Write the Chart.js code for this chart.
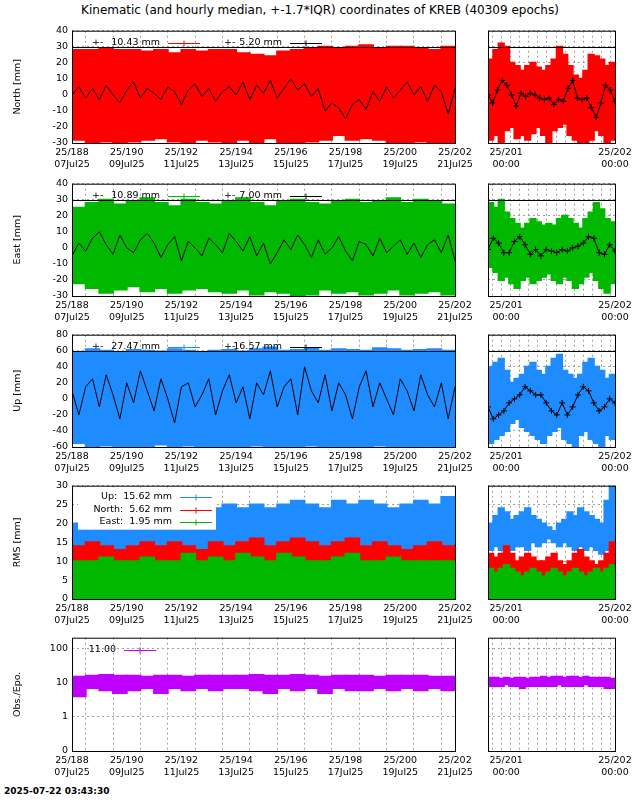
<!DOCTYPE html>
<html><head><meta charset="utf-8">
<script src="https://cdn.jsdelivr.net/npm/chart.js@4.4.1/dist/chart.umd.min.js"></script>
<style>
body{margin:0;background:#fff;width:640px;height:800px;position:relative;overflow:hidden;font-family:"DejaVu Sans",sans-serif}
canvas{position:absolute}
#title{position:absolute;top:3px;left:0;width:640px;text-align:center;font-size:12px}
#stamp{position:absolute;left:4px;top:786px;font-size:9px;font-weight:bold}
</style></head><body>
<div id="title">Kinematic (and hourly median, +-1.7*IQR) coordinates of KREB (40309 epochs)</div>
<div id="stamp">2025-07-22 03:43:30</div>
<script>
// ---- tick labels ----
const leftTickDoy = [188,190,192,194,196,198,200,202];
const leftTickDate = ["07Jul25","09Jul25","11Jul25","13Jul25","15Jul25","17Jul25","19Jul25","21Jul25"];
const rightTickDoy = [201,202];
const rightTickTime = ["00:00","00:00"];
const obsTickLabels = ["0","1","10","100"];
// ---- legends ----
const northLegend = ["10.43 mm","5.20 mm"];
const eastLegend = ["10.89 mm","7.00 mm"];
const upLegend = ["27.47 mm","16.57 mm"];
const rmsLegend = [["Up:","15.62 mm"],["North:","5.62 mm"],["East:","1.95 mm"]];
const obsLegend = "11.00";
// ---- North (half-day bins left, ~hourly bins right) ----
const northHiL=[28,28,29,28,28,27,28,26,28,27,28,28,26,25,24,27,28,29,30,29,30,31,29,30,30,29,28,30];
const northLoL=[-28,-30,-29,-30,-29,-28,-27,-29,-30,-28,-29,-30,-28,-30,-27,-30,-30,-29,-28,-25,-28,-27,-28,-30,-30,-29,-30,-30];
const northMedL=[0,5,-2,4,-3,6,0,-5,3,8,-2,4,1,-3,5,2,-6,3,7,-1,4,-4,2,5,0,8,-3,6,1,9,-2,4,10,3,7,-1,4,-10,-5,-8,-15,-6,-3,-9,2,-4,5,-2,3,8,0,5,-4,6,2,-12,4];
const northHiR=[22,28,32,30,20,18,15,18,20,17,15,18,22,30,25,18,12,10,15,25,24,22,18,20];
const northLoR=[-28,-25,-30,-22,-20,-27,-25,-28,-24,-20,-25,-30,-22,-20,-18,-25,-28,-30,-30,-28,-22,-25,-30,-28];
const northMedR=[0,-5,3,9,6,0,-7,1,-1,1,0,-2,-3,-2,-6,-3,-4,4,9,-2,-3,-2,-8,-14,-5,6,3,-4];
// ---- East ----
const eastHiL=[25,28,30,27,29,31,28,26,30,28,27,29,31,28,26,29,30,28,27,29,30,28,29,31,28,30,29,27];
const eastLoL=[-22,-25,-28,-26,-24,-27,-25,-28,-26,-25,-27,-28,-26,-29,-27,-28,-30,-29,-26,-28,-27,-29,-28,-26,-29,-28,-27,-29];
const eastMedL=[-5,3,-2,6,10,2,-4,8,0,-3,5,9,3,-6,2,7,-8,4,0,-5,6,2,-3,9,4,-2,7,-5,3,-10,-3,5,-1,8,2,-6,5,-4,0,7,-2,-8,4,2,-5,6,-3,1,5,-4,3,-6,2,5,-3,8,-8];
const eastHiR=[28,25,30,22,18,15,12,15,18,16,14,15,14,18,20,18,15,12,18,22,28,24,18,16];
const eastLoR=[-12,-15,-20,-18,-22,-25,-20,-18,-22,-20,-18,-16,-20,-22,-18,-20,-25,-22,-18,-15,-20,-25,-28,-22];
const eastMedR=[-1,6,3,-3,-3,4,7,2,-4,-1,-5,-1,-2,-3,-1,-2,0,1,3,7,6,-3,-4,2,-2];
// ---- Up ----
const upHiL=[58,62,60,58,61,60,59,62,60,58,60,61,59,62,64,60,61,63,60,62,61,60,63,62,60,61,62,60];
const upLoL=[-55,-60,-58,-60,-59,-60,-57,-60,-58,-60,-59,-60,-60,-58,-60,-59,-60,-58,-60,-60,-59,-60,-58,-60,-60,-59,-60,-60];
const upMedL=[10,-20,15,25,-10,30,5,-25,20,-5,35,10,-15,25,0,-30,15,20,-10,5,25,-20,10,30,-5,15,-25,20,5,35,-10,15,25,-20,40,10,-5,30,-15,20,5,-25,15,35,-10,20,0,-20,25,10,-15,30,5,-10,20,-25,15];
const upHiR=[40,45,50,35,20,25,30,40,45,35,30,40,50,55,35,30,25,30,45,50,40,35,25,30];
const upLoR=[-55,-50,-45,-40,-30,-25,-35,-40,-45,-50,-55,-45,-40,-35,-50,-55,-60,-45,-40,-50,-55,-60,-45,-50];
const upMedR=[-10,-25,-20,-15,-5,0,5,15,10,5,5,-5,-15,-20,-5,-20,-10,5,15,10,-5,-15,-10,0,-5];
// ---- RMS ----
const rmsUpHiL=[20,21,22,21,22,23,22,24,23,22,24,25,24,25,24,25,26,25,24,26,25,26,25,24,25,26,25,27];
const rmsUpLoL=[12,13,12,13,12,13,12,13,12,12,13,12,12,13,12,12,13,12,12,13,12,12,13,12,12,13,12,12];
const rmsNoHiL=[14,15,14,13,14,15,14,15,14,13,15,14,15,16,14,15,16,15,14,15,16,14,15,14,13,14,15,14];
const rmsNoLoL=[5,5,6,5,5,6,5,5,6,5,5,6,5,5,6,5,5,6,5,5,6,5,5,6,5,5,6,5];
const rmsEaHiL=[10,10,11,10,10,11,10,10,12,10,11,10,12,11,10,12,11,10,10,11,12,10,10,11,10,10,10,10];
const rmsEaLoL=[0,0,0,0,0,0,0,0,0,0,0,0,0,0,0,0,0,0,0,0,0,0,0,0,0,0,0,0];
const rmsUpHiR=[20,22,24,23,21,22,23,24,22,21,20,19,18,20,21,23,22,24,23,22,21,20,26,30];
const rmsUpLoR=[13,14,13,12,13,14,14,13,15,14,15,16,15,14,15,14,13,14,13,14,13,12,13,12];
const rmsNoHiR=[12,11,12,14,12,10,11,12,11,10,10,11,12,10,9,10,12,13,11,10,9,10,12,15];
const rmsNoLoR=[3,4,3,5,4,3,4,3,2,3,3,2,3,3,2,3,2,3,4,3,3,2,3,4];
const rmsEaHiR=[8,7,8,9,8,7,6,7,8,7,6,7,8,7,6,7,8,7,6,7,8,7,8,9];
const rmsEaLoR=[0,0,0,0,0,0,0,0,0,0,0,0,0,0,0,0,0,0,0,0,0,0,0,0];
// ---- Obs per epoch ----
const obsLoL=[4,7,6,5,6,7,5,7,6,7,6,7,7,6,5,7,6,7,5,7,6,6,7,6,7,6,7,6];
const obsHiL=[15,16,17,16,16,15,16,16,15,16,16,16,16,17,16,16,17,16,15,16,16,16,15,16,16,16,15,15];
const obsLoR=[8,8,8,9,8,8,7,8,8,8,8,8,8,9,8,8,8,8,9,8,8,8,7,7];
const obsHiR=[14,14,13,14,13,14,14,13,14,14,15,14,15,15,14,15,15,14,15,14,14,14,14,13];

const RED='#ff0000', GREEN='#00b800', BLUE='#1e8cff', PURPLE='#c000ff';
Chart.defaults.font={family:'DejaVu Sans',size:9}; Chart.defaults.color='#000';
Chart.defaults.animation=false;
const L0=188,L1=202,R0=200+20/24,R1=202;

const binsL=(a,b,t)=>a.map((v,i)=>({x:L0+(i+0.5)*(L1-L0)/a.length,y:t?[t(a[i]),t(b[i])]:[a[i],b[i]]}));
const binsR=(a,b,t)=>a.map((v,i)=>({x:R0+(i+0.5)*(R1-R0)/a.length,y:t?[t(a[i]),t(b[i])]:[a[i],b[i]]}));
const medL=a=>a.map((v,i)=>({x:L0+i*(L1-L0)/(a.length-1),y:v}));
const medR=a=>a.map((v,i)=>({x:R0+i*(R1-R0)/(a.length-1),y:v}));

const extra={id:'extra',
  afterDatasetsDraw(c,args,o){
    const ctx=c.ctx, a=c.chartArea;
    ctx.save();
    if(o.hline!==undefined){const y=Math.round(c.scales.y.getPixelForValue(o.hline));
      ctx.strokeStyle='#000';ctx.lineWidth=1;ctx.beginPath();ctx.moveTo(a.left,y+.5);ctx.lineTo(a.right,y+.5);ctx.stroke();}
    if(o.whiteBox){const b=o.whiteBox;ctx.fillStyle='#fff';ctx.fillRect(a.left+b[0],a.top+b[1],b[2],b[3]);}
    ctx.font='9.5px "DejaVu Sans"';ctx.textBaseline='middle';
    (o.items||[]).forEach(it=>{
      ctx.fillStyle='#000';ctx.textAlign='right';
      ctx.fillText(it.t,a.left+it.x,a.top+it.y);
      if(it.p){ctx.textAlign='left';ctx.fillText('+-',a.left+it.p,a.top+it.y);}
      ctx.strokeStyle=it.c;ctx.lineWidth=1;ctx.beginPath();
      const y=Math.round(a.top+it.y)+.5, x0=a.left+it.x+8, x1=x0+32;
      ctx.moveTo(x0,y);ctx.lineTo(x1,y);
      ctx.moveTo((x0+x1)/2,y-3);ctx.lineTo((x0+x1)/2,y+3);ctx.stroke();
    });
    ctx.strokeStyle='#000';ctx.lineWidth=1;
    ctx.strokeRect(a.left+.5,a.top+.5,a.right-a.left,a.bottom-a.top);
    ctx.restore();
  }};
Chart.register(extra);

function mk(left,top,w,h,isLeft,ycfg,datasets,ext){
  const cv=document.createElement('canvas');
  cv.style.left=left+'px';cv.style.top=top+'px';cv.width=w;cv.height=h;
  cv.style.width=w+'px';cv.style.height=h+'px';
  document.body.appendChild(cv);
  const xmin=isLeft?L0:R0, xmax=isLeft?L1:R1;
  new Chart(cv,{type:'bar',data:{datasets},
    options:{responsive:false,devicePixelRatio:1,
      layout:{padding:{top:8,right:25,left:0,bottom:0}},
      plugins:{legend:{display:false},tooltip:{enabled:false},extra:ext||{}},
      scales:{
        x:{type:'linear',min:xmin,max:xmax,offset:false,
          afterBuildTicks(s){const t=[];if(isLeft){for(let d=L0;d<=L1;d++)t.push({value:d});}else{for(let k=0;k<=14;k++)t.push({value:R0+k/12});}s.ticks=t;},
          afterFit(s){s.height=30;},
          grid:{color:'#a0a0a0',drawTicks:false,lineWidth:1},
          border:{display:false,dash:[2,3]},
          ticks:{autoSkip:false,maxRotation:0,padding:4,font:{family:'DejaVu Sans',size:9.5},
            callback(v){
              if(isLeft){const i=leftTickDoy.indexOf(Math.round(v));return (Math.abs(v-Math.round(v))<1e-6&&i>=0)?['25/'+leftTickDoy[i],leftTickDate[i]]:'';}
              for(let i=0;i<rightTickDoy.length;i++)if(Math.abs(v-rightTickDoy[i])<1e-6)return ['25/'+rightTickDoy[i],rightTickTime[i]];
              return '';}}},
        y:{min:ycfg.min,max:ycfg.max,
          afterFit(s){s.width=isLeft?72:28;},
          afterBuildTicks(s){const t=[];for(let v=ycfg.min;v<=ycfg.max+1e-9&&v<=(ycfg.lastTick??ycfg.max);v+=ycfg.step)t.push({value:v});s.ticks=t;},
          grid:{color:c=>c.tick&&c.tick.value===0?'#000':'#a0a0a0',drawTicks:false},
          border:{display:false,dash:[2,3]},
          title:{display:isLeft,text:ycfg.title,padding:{top:12,bottom:0},font:{family:'DejaVu Sans',size:9.5}},
          ticks:{padding:4,font:{family:'DejaVu Sans',size:9.5},callback:(v)=>isLeft?(ycfg.cb?ycfg.cb(v):v):''}}
      }}});
}
const barDs=(data,color,order)=>({type:'bar',data,backgroundColor:color,borderColor:color,borderWidth:0,inflateAmount:1,barPercentage:1,categoryPercentage:1,grouped:false,order});
const lineDs=(data,pts)=>({type:'line',data,borderColor:'#000',borderWidth:1,pointRadius:pts?3:0,pointStyle:'cross',pointBorderColor:'#000',tension:0,order:0});

const rows=[
 {top:21,title:'North [mm]',min:-30,max:40,step:10,hl:30,c:RED,hiL:northHiL,loL:northLoL,mL:northMedL,hiR:northHiR,loR:northLoR,mR:northMedR,lg:northLegend},
 {top:174,title:'East [mm]',min:-30,max:40,step:10,hl:30,c:GREEN,hiL:eastHiL,loL:eastLoL,mL:eastMedL,hiR:eastHiR,loR:eastLoR,mR:eastMedR,lg:eastLegend},
 {top:325,title:'Up [mm]',min:-60,max:80,step:20,hl:60,c:BLUE,hiL:upHiL,loL:upLoL,mL:upMedL,hiR:upHiR,loR:upLoR,mR:upMedR,lg:upLegend},
];
rows.forEach(r=>{
  const H=8+114+30;
  mk(0,r.top,480,H,true,{title:r.title,min:r.min,max:r.max,step:r.step},
    [barDs(binsL(r.loL,r.hiL),r.c,1),lineDs(medL(r.mL),false)],
    {hline:r.hl,items:[{t:r.lg[0],x:88,y:12,c:r.c,p:20},{t:r.lg[1],x:210,y:12,c:'#000',p:152}]});
  mk(460,r.top,180,H,false,{title:'',min:r.min,max:r.max,step:r.step},
    [barDs(binsR(r.loR,r.hiR),r.c,1),lineDs(medR(r.mR),true)],{hline:r.hl});
});
// RMS
mk(0,476,480,153,true,{title:'RMS [mm]',min:0,max:30,step:5},
  [barDs(binsL(rmsEaLoL,rmsEaHiL),GREEN,1),barDs(binsL(rmsNoLoL,rmsNoHiL),RED,2),barDs(binsL(rmsUpLoL,rmsUpHiL),BLUE,3)],
  {whiteBox:[6,2,138,42],items:[{t:rmsLegend[0][0]+'  '+rmsLegend[0][1],x:100,y:11,c:BLUE},{t:rmsLegend[1][0]+'  '+rmsLegend[1][1],x:100,y:24,c:RED},{t:rmsLegend[2][0]+'  '+rmsLegend[2][1],x:100,y:36,c:GREEN}]});
mk(460,476,180,153,false,{title:'',min:0,max:30,step:5},
  [barDs(binsR(rmsEaLoR,rmsEaHiR),GREEN,1),barDs(binsR(rmsNoLoR,rmsNoHiR),RED,2),barDs(binsR(rmsUpLoR,rmsUpHiR),BLUE,3)],{});
// Obs
const lg=v=>Math.log10(v)+1;
mk(0,628,480,153,true,{title:'Obs./Epo.',min:0,max:3.32,step:1,lastTick:3,cb:v=>obsTickLabels[Math.round(v)]},
  [barDs(binsL(obsLoL,obsHiL,lg),PURPLE,1)],{items:[{t:obsLegend,x:44,y:12,c:PURPLE}]});
mk(460,628,180,153,false,{title:'',min:0,max:3.32,step:1,lastTick:3},
  [barDs(binsR(obsLoR,obsHiR,lg),PURPLE,1)],{});
</script></body></html>
